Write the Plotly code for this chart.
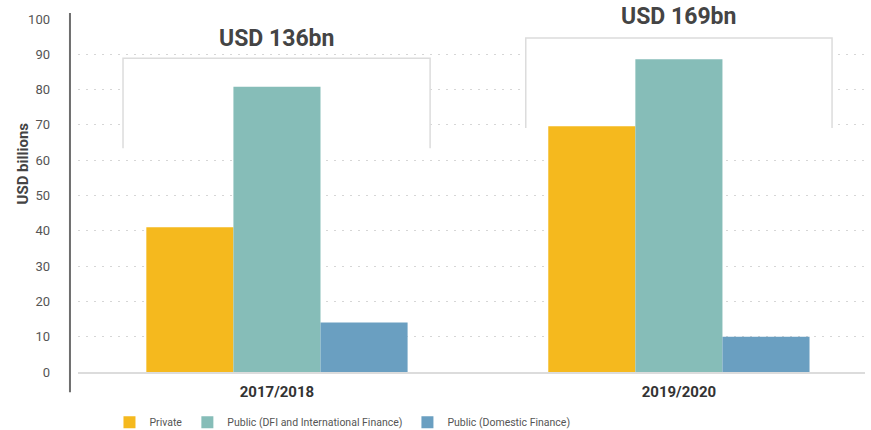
import plotly.graph_objects as go

# Climate finance flows by period (USD billions)
periods = ["2017/2018", "2019/2020"]
series_names = ["Private", "Public (DFI and International Finance)", "Public (Domestic Finance)"]
private = [41.0, 69.6]
public_dfi = [80.8, 88.6]
public_domestic = [14.0, 10.0]
totals_label = ["USD 136bn", "USD 169bn"]
y_ticks = [0, 10, 20, 30, 40, 50, 60, 70, 80, 90, 100]

colors = ["#F5B91E", "#86BDB8", "#6A9FC1"]
FONT = "Roboto, sans-serif"

fig = go.Figure()
for name, vals, col in zip(series_names, [private, public_dfi, public_domestic], colors):
    fig.add_trace(go.Bar(
        x=periods, y=vals, name=name, marker=dict(color=col, line=dict(width=0)),
        hoverinfo="x+y+name",
    ))

# Bracket boxes (white fill hides gridlines, open at the bottom) around each period group
brackets = [
    dict(x0=-0.383, x1=0.381, y0=63.4, y1=88.9),
    dict(x0=0.619, x1=1.381, y0=69.1, y1=94.6),
]
for b in brackets:
    fig.add_shape(type="rect", xref="x", yref="y", x0=b["x0"], x1=b["x1"],
                  y0=b["y0"], y1=b["y1"], fillcolor="white", line=dict(width=0),
                  layer="between")
    fig.add_shape(type="path", xref="x", yref="y",
                  path=f"M {b['x0']},{b['y0']} L {b['x0']},{b['y1']} L {b['x1']},{b['y1']} L {b['x1']},{b['y0']}",
                  line=dict(color="#DCDCDC", width=1.5), layer="between")

# Total labels above each bracket (paper y so they are not clipped by the axis range)
label_y = [0.946, 1.006]
for i, (txt, ly) in enumerate(zip(totals_label, label_y)):
    fig.add_annotation(x=i, y=ly, xref="x", yref="paper", text=f"<b>{txt}</b>",
                       showarrow=False, font=dict(family=FONT, size=23, color="#444444"),
                       bgcolor="white", borderpad=1, yanchor="middle")

# Left vertical axis rule
fig.add_shape(type="line", xref="paper", yref="paper", x0=-0.0102, x1=-0.0102,
              y0=-0.0575, y1=1.017, line=dict(color="#6E6E6E", width=2))

# Y axis title
fig.add_annotation(x=-0.0693, y=0.592, xref="paper", yref="paper", text="<b>USD billions</b>",
                   textangle=-90, showarrow=False, xanchor="center", yanchor="middle",
                   font=dict(family=FONT, size=15, color="#444444"))

fig.update_layout(
    width=871, height=430,
    margin=dict(l=78, r=6, t=19, b=58, autoexpand=False),
    paper_bgcolor="white", plot_bgcolor="white",
    barmode="group", bargap=0.35, bargroupgap=0,
    showlegend=True,
    legend=dict(orientation="h", x=0.04, y=-0.142, xanchor="left", yanchor="middle",
                font=dict(family=FONT, size=10.5, color="#555555"),
                itemwidth=30, tracegroupgap=0, itemsizing="constant"),
    font=dict(family=FONT),
    xaxis=dict(range=[-0.495, 1.463], showgrid=False, showline=True,
               linecolor="#DCDCDC", linewidth=1.5, ticks="",
               tickfont=dict(family=FONT, size=15, color="#333333"),
               tickprefix="<b>", ticksuffix="</b>",
               ticklabelstandoff=5, zeroline=False),
    yaxis=dict(range=[0, 100], tickvals=y_ticks, showgrid=True,
               gridcolor="#D6D6D6", gridwidth=1.2, griddash="2px,6px",
               showline=False, zeroline=False, ticks="",
               tickfont=dict(family=FONT, size=13, color="#555555"),
               ticklabelstandoff=27),
)

fig.write_html("out.html")
